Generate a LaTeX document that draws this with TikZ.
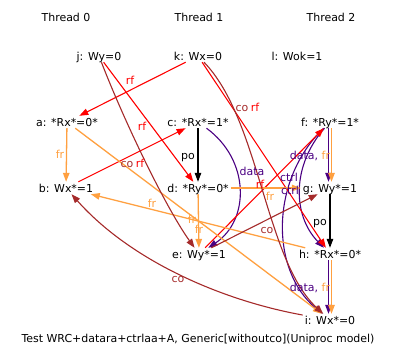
\documentclass[tikz,border=0pt]{standalone}
\usepackage{fontspec}
\setmainfont{DejaVu Sans}
\usepackage{xcolor}
\usetikzlibrary{arrows.meta}
\definecolor{rfred}{HTML}{FF0000}
\definecolor{frorange}{HTML}{FFA040}
\definecolor{cobrown}{HTML}{A52A2A}
\definecolor{depindigo}{HTML}{4B0082}

\begin{document}
\begin{tikzpicture}[x=1bp,y=-1bp,font=\fontsize{11}{13}\selectfont,
  ev/.style={inner xsep=2bp,inner ysep=2bp,text height=8bp,text depth=0pt},
  lb/.style={inner sep=0pt,text height=8bp,text depth=0pt},
  rel/.style={line width=1.1bp,-{Triangle[length=9bp,width=6.5bp]}},
  erf/.style={rel,rfred},
  efr/.style={rel,frorange,line width=1.3bp},
  eco/.style={rel,cobrown},
  epo/.style={rel,black},
  edep/.style={rel,depindigo}]
\useasboundingbox (0,0) rectangle (398,361);
\foreach \t/\x in {0/66,1/199,2/331}{\node[ev] (th\t) at (\x,17) {Thread \t};}
% initial writes
\node[ev] (j) at (99,56) {j: Wy=0};
\node[ev] (k) at (198,56) {k: Wx=0};
\node[ev] (l) at (297,56) {l: Wok=1};
% thread events
\node[ev] (a) at (67,122) {a: *Rx*=0*};
\node[ev] (b) at (66,188) {b: Wx*=1};
\node[ev] (c) at (198,122) {c: *Rx*=1*};
\node[ev] (d) at (198,188) {d: *Ry*=0*};
\node[ev] (e) at (199,254) {e: Wy*=1};
\node[ev] (f) at (330,122) {f: *Ry*=1*};
\node[ev] (g) at (330,188) {g: Wy*=1};
\node[ev] (h) at (330,254) {h: *Rx*=0*};
\node[ev] (i) at (330,320) {i: Wx*=0};
\node[ev] (cap) at (198,338) {Test WRC+datara+ctrlaa+A, Generic[withoutco](Uniproc model)};

% program order and dependencies
\draw[epo] (c) -- (d);
\draw[epo] (g) -- (h);
\draw[edep] (c) .. controls (250,160) and (250,220) .. (e);
\draw[edep] ([xshift=-1.5bp]f.south) -- ([xshift=-1.5bp]g.north);
\draw[efr] ([xshift=1.5bp]f.south) -- ([xshift=1.5bp]g.north);
\draw[edep] ([xshift=-1.5bp]h.south) -- ([xshift=-1.5bp]i.north);
\draw[efr] ([xshift=1.5bp]h.south) -- ([xshift=1.5bp]i.north);
\draw[edep] (f) .. controls (292,165) and (292,215) .. (h);
\draw[edep] (f) .. controls (270,180) and (270,270) .. (i);

% rf
\draw[erf] (k) -- (a);
\draw[erf] (j) -- (d);
\draw[erf] (b) -- (c);
\draw[erf] (e) -- (f);
\draw[erf] (k) -- (h);

% fr
\draw[efr] (a) -- (b);
\draw[efr] (a) -- (i);
\draw[efr] (d) -- (e);
\draw[efr] (d) -- (g);
\draw[efr] (h) -- (b);

% co
\draw[eco] (j) .. controls (125,123) and (166,208) .. (e);
\draw[eco] (k) .. controls (260,120) and (265,260) .. (i);
\draw[eco] (e) -- (g);
\draw[eco] (i) .. controls (220,300) and (130,260) .. (b);

% labels
\node[lb,rfred] (l1) at (130,80) {rf};
\node[lb,rfred] (l2) at (142,126) {rf};
\node[lb,cobrown] (l3) at (127,163) {co};
\node[lb,rfred] (l4) at (140,163) {rf};
\node[lb,frorange] (l5) at (60,154) {fr};
\node[lb] (l6) at (188,155) {po};
\node[lb,depindigo] (l7) at (252,171) {data};
\node[lb,rfred] (l8) at (260,184) {rf};
\node[lb,frorange] (l9) at (270,196) {fr};
\node[lb,depindigo] (l10) at (289,177) {ctrl};
\node[lb,depindigo] (l11) at (290,190) {ctrl};
\node[lb] (l12) at (310,155) {\textcolor{depindigo}{data,} \textcolor{frorange}{fr}};
\node[lb] (l13) at (320,221) {po};
\node[lb,cobrown] (l14) at (242,107) {co};
\node[lb,rfred] (l15) at (255,107) {rf};
\node[lb,frorange] (l16) at (152,203) {fr};
\node[lb,frorange] (l17) at (192,219) {fr};
\node[lb,frorange] (l18) at (199,229) {fr};
\node[lb,cobrown] (l19) at (267,229) {co};
\node[lb] (l20) at (310,287) {\textcolor{depindigo}{data,} \textcolor{frorange}{fr}};
\node[lb,cobrown] (l21) at (178,278) {co};
\end{tikzpicture}
\end{document}
